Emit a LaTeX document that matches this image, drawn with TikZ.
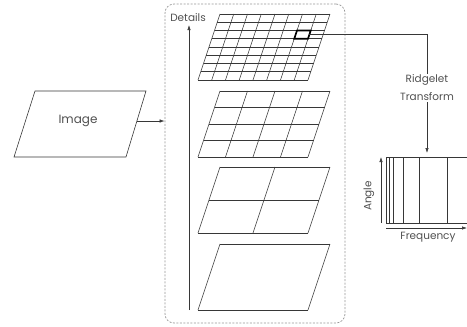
\documentclass[tikz,border=0pt]{standalone}
\usepackage{fontspec}
\setmainfont{Poppins}
\usetikzlibrary{arrows.meta, positioning, calc}
\definecolor{GrisLinea}{RGB}{55,55,55}
\definecolor{GrisTexto}{RGB}{80,80,80}
\definecolor{GrisMarco}{RGB}{150,150,150}

\begin{document}
\begin{tikzpicture}[x=1pt, y=-1pt, font=\fontsize{10.5}{13}\selectfont,
	linea/.style={GrisLinea, line width=0.6pt},
	flecha/.style={-{Latex[length=5pt, width=3.4pt]}, GrisLinea, line width=0.6pt},
	etiqueta/.style={text=GrisTexto, inner sep=1pt, align=center},
	marco/.style={draw=GrisMarco, line width=0.7pt, dash pattern=on 2pt off 1.5pt,
		rounded corners=9pt, minimum width=180pt, minimum height=319pt, inner sep=0pt}]
	\useasboundingbox (0,0) rectangle (467,327);
	\draw[linea] (35,91) -- (146,91) -- (126,157) -- (14,157) -- cycle;
	\node[etiqueta, font=\fontsize{12}{14}\selectfont] (imagen) at (78,121) {Image};
	\coordinate (imagen-salida) at (137,121);
	\node[marco] (marco) at (255,163.5) {};
	\draw[flecha] (imagen-salida) -- (marco.west |- imagen-salida);
	\coordinate (detalles-base) at (189,310);
	\coordinate (detalles-punta) at (189,25);
	\draw[flecha] (detalles-base) -- (detalles-punta);
	\node[etiqueta] (detalles) at (188,18) {Details};
	\foreach \n/\t in {8/14, 4/91, 2/167, 1/244} {
		\foreach \i in {0,...,\n} {
			\draw[linea] ({220-22*\i/\n}, {\t+66*\i/\n}) -- ++(110,0);
			\draw[linea] ({220+110*\i/\n}, \t) -- ++(-22,66);
		}
	}
	\draw[line width=1.7pt, black] (297,30.5) -- ++(13.75,0) -- ++(-2.75,8.25) -- ++(-13.75,0) -- cycle;
	\coordinate (celda) at (309.4,34.6);
	\node[etiqueta, font=\fontsize{10.5}{18}\selectfont] (ridgelet) at (427,88) {Ridgelet\\Transform};
	\coordinate (espectro) at (427,157);
	\draw[linea] (celda) -| (ridgelet.north);
	\draw[flecha, shorten >=4pt] (ridgelet.south) -- (espectro);
	\draw[linea] (467,157) -| (386,223) -- (467,223);
	\foreach \d in {3,7,17,33,61}
		\draw[linea] ({386+\d},157) -- ++(0,66);
	\coordinate (angulo-base) at (381,223);
	\coordinate (angulo-punta) at (381,157);
	\draw[flecha] (angulo-base) -- (angulo-punta);
	\node[etiqueta, rotate=90] (angulo) at (369,196) {Angle};
	\coordinate (frecuencia-base) at (386,228);
	\coordinate (frecuencia-punta) at (467,228);
	\draw[flecha] (frecuencia-base) -- (frecuencia-punta);
	\node[etiqueta] (frecuencia) at (428,237) {Frequency};
\end{tikzpicture}
\end{document}
